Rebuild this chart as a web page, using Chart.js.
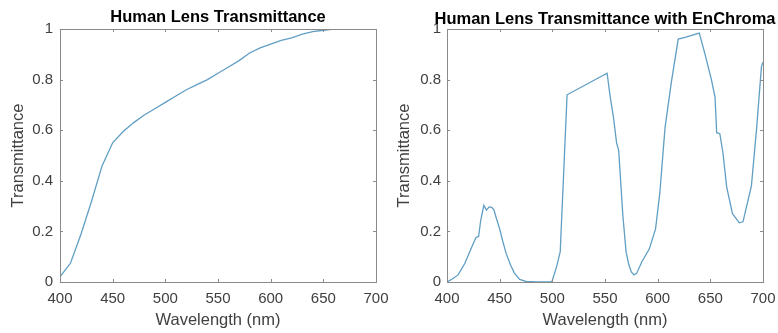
<!DOCTYPE html>
<html>
<head>
<meta charset="utf-8">
<title>Human Lens Transmittance</title>
<script src="https://cdn.jsdelivr.net/npm/chart.js@4.4.1/dist/chart.umd.min.js"></script>
<style>
    body { margin: 0; background: #fff; }
    #wrap { position: relative; width: 778px; height: 333px; }
    .holder { position: absolute; top: 0; width: 389px; height: 333px; }
</style>
</head>
<body>
<div id="wrap">
    <div class="holder" style="left:0"><canvas id="lens-chart" width="389" height="333"></canvas></div>
    <div class="holder" style="left:389px"><canvas id="enchroma-chart" width="389" height="333"></canvas></div>
</div>
<script>
// data
var lensWavelength = [400, 410, 420, 430, 440, 450, 460, 470, 480, 490, 500, 510, 520, 530, 540, 550,
    560, 570, 580, 590, 600, 610, 620, 630, 640, 650, 660, 670, 680, 690, 700];
var lensTransmittance = [0.02, 0.075, 0.19, 0.32, 0.46, 0.55, 0.595, 0.63, 0.66, 0.685, 0.71, 0.735, 0.76, 0.78, 0.80, 0.825,
    0.85, 0.875, 0.905, 0.925, 0.94, 0.955, 0.965, 0.98, 0.99, 0.995, 1.0, 1.0, 1.0, 1.0, 1.0];

var enchromaWavelength = [400, 405, 410.5, 417, 423, 427.5, 430, 432, 435, 437.5, 440, 442.5, 444.5, 447, 450, 453,
    456, 460, 464, 469, 475, 485, 499.5, 504, 507.5, 514, 552, 555, 558, 561, 563, 567, 570, 572.5, 575, 577.5,
    580, 585, 592, 598, 602, 607, 610, 613, 619.5, 626, 639.5, 645, 651, 654.5, 656, 659, 662, 665.5, 671,
    677.5, 681, 689, 694, 698.5, 700];
var enchromaTransmittance = [0.0, 0.012, 0.028, 0.074, 0.133, 0.176, 0.18, 0.244, 0.303, 0.284, 0.297, 0.295, 0.285, 0.25, 0.21, 0.16,
    0.115, 0.07, 0.035, 0.01, 0.002, 0.0, 0.0, 0.06, 0.12, 0.74, 0.825, 0.73, 0.652, 0.55, 0.52, 0.26, 0.12, 0.07, 0.04, 0.028,
    0.034, 0.08, 0.13, 0.21, 0.35, 0.61, 0.7, 0.79, 0.96, 0.967, 0.984, 0.9, 0.8, 0.73, 0.59, 0.586, 0.51, 0.376, 0.27,
    0.234, 0.238, 0.38, 0.61, 0.85, 0.87];

var xTicks = [400, 450, 500, 550, 600, 650, 700];
var yTicks = [0, 0.2, 0.4, 0.6, 0.8, 1];

const FONT = "'Liberation Sans', Arial, sans-serif";
const LINE_COLOR = 'rgb(96, 158, 196)';

function toPoints(xs, ys) {
    return xs.map(function (x, i) { return { x: x, y: ys[i] }; });
}

// MATLAB style box, inward ticks and a title centred over the plot area
const matlabBox = {
    id: 'matlabBox',
    afterDraw: function (chart, args, opts) {
        var ctx = chart.ctx;
        var a = chart.chartArea;
        var xs = chart.scales.x;
        var ys = chart.scales.y;
        ctx.save();
        ctx.strokeStyle = '#8a8a8a';
        ctx.lineWidth = 1;
        ctx.strokeRect(Math.round(a.left) + 0.5, Math.round(a.top) + 0.5,
            Math.round(a.right - a.left), Math.round(a.bottom - a.top));
        ctx.beginPath();
        xTicks.forEach(function (v) {
            var px = Math.round(xs.getPixelForValue(v)) + 0.5;
            ctx.moveTo(px, a.bottom); ctx.lineTo(px, a.bottom - 3);
            ctx.moveTo(px, a.top); ctx.lineTo(px, a.top + 3);
        });
        yTicks.forEach(function (v) {
            var py = Math.round(ys.getPixelForValue(v)) + 0.5;
            ctx.moveTo(a.left, py); ctx.lineTo(a.left + 3, py);
            ctx.moveTo(a.right, py); ctx.lineTo(a.right - 3, py);
        });
        ctx.stroke();

        ctx.fillStyle = '#000';
        ctx.font = 'bold 16.5px ' + FONT;
        ctx.textAlign = 'center';
        ctx.textBaseline = 'alphabetic';
        ctx.fillText(opts.text, (a.left + a.right) / 2, opts.y);
        ctx.restore();
    }
};

function makeConfig(xs, ys, opt) {
    return {
        type: 'line',
        data: {
            datasets: [{
                data: toPoints(xs, ys),
                borderColor: LINE_COLOR,
                borderWidth: 1.3,
                pointRadius: 0,
                tension: 0,
                fill: false
            }]
        },
        options: {
            responsive: false,
            animation: false,
            layout: { padding: { top: 29, right: opt.padRight, left: 0, bottom: 0 } },
            plugins: {
                legend: { display: false },
                tooltip: { enabled: false },
                matlabBox: { text: opt.title, y: opt.titleY }
            },
            scales: {
                x: {
                    type: 'linear',
                    min: 400,
                    max: 700,
                    afterBuildTicks: function (scale) {
                        scale.ticks = xTicks.map(function (v) { return { value: v }; });
                    },
                    afterFit: function (scale) {
                        scale.height = 51;
                        scale.paddingLeft = 0;
                        scale.paddingRight = 0;
                    },
                    grid: { display: false, drawTicks: false, tickLength: 0 },
                    border: { display: false },
                    ticks: { color: '#404040', font: { family: FONT, size: 15 }, padding: 8, maxRotation: 0 },
                    title: {
                        display: true,
                        text: 'Wavelength (nm)',
                        color: '#404040',
                        font: { family: FONT, size: 16.5 },
                        padding: { top: 0, bottom: 3 }
                    }
                },
                y: {
                    type: 'linear',
                    min: 0,
                    max: 1,
                    afterBuildTicks: function (scale) {
                        scale.ticks = yTicks.map(function (v) { return { value: v }; });
                    },
                    afterFit: function (scale) {
                        scale.width = opt.yWidth;
                        scale.paddingTop = 0;
                        scale.paddingBottom = 0;
                    },
                    grid: { display: false, drawTicks: false, tickLength: 0 },
                    border: { display: false },
                    ticks: {
                        color: '#404040',
                        font: { family: FONT, size: 15 },
                        padding: opt.yPad,
                        callback: function (v) { return String(Number(v.toFixed(1))); }
                    },
                    title: {
                        display: true,
                        text: 'Transmittance',
                        color: '#404040',
                        font: { family: FONT, size: 16.5 },
                        padding: { top: opt.yTitlePad, bottom: 0 }
                    }
                }
            }
        },
        plugins: [matlabBox]
    };
}

var lensChart = new Chart(document.getElementById('lens-chart').getContext('2d'),
    makeConfig(lensWavelength, lensTransmittance, {
        title: 'Human Lens Transmittance', titleY: 22, padRight: 13, yWidth: 60, yPad: 7, yTitlePad: 8.5
    }));

var enchromaChart = new Chart(document.getElementById('enchroma-chart').getContext('2d'),
    makeConfig(enchromaWavelength, enchromaTransmittance, {
        title: 'Human Lens Transmittance with EnChroma', titleY: 24, padRight: 15, yWidth: 58, yPad: 6, yTitlePad: 5.5
    }));
</script>
</body>
</html>
